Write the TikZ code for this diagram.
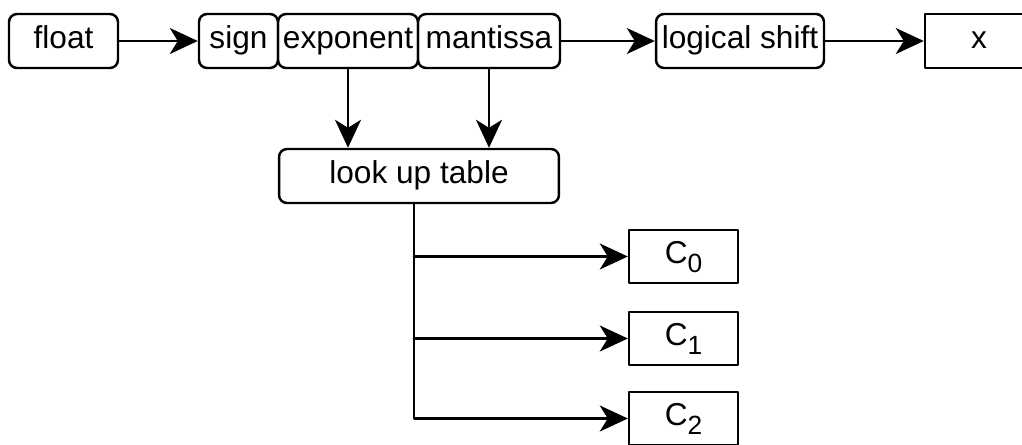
\documentclass[tikz,border=0pt]{standalone}
\usepackage{fontspec}
\setmainfont{Liberation Sans}
\usetikzlibrary{arrows.meta}
\newcommand{\sub}[1]{\raisebox{-5pt}{\fontsize{15}{15}\selectfont #1}}
\tikzset{
  field/.style={draw, rounded corners=0.16cm, inner sep=0pt,
    minimum height=1.08cm, text height=12pt, text depth=4pt,
    font=\fontsize{18}{21}\selectfont},
  plain/.style={draw, inner sep=0pt, minimum height=1.07cm,
    text height=12pt, text depth=4pt, font=\fontsize{18}{21}\selectfont},
  flow/.style={-{Stealth[length=0.56cm, width=0.52cm, inset=0.16cm]}},
}
\begin{document}
\begin{tikzpicture}[x=0.02cm, y=-0.02cm, line width=1.4pt, line cap=round, line join=round]
  % page: 1022 x 444 in picture units
  \useasboundingbox (0,0) rectangle (1022,444);
  \clip (0,0) rectangle (1022,444);
  % top row: the float split in its three fields, then the shift
  \node[field, minimum width=2.18cm] (float)    at (63.5, 41)  {float};
  \node[field, minimum width=1.58cm] (sign)     at (238.5, 41) {sign};
  \node[field, minimum width=2.80cm] (exponent) at (348, 41)   {exponent};
  \node[field, minimum width=2.84cm] (mantissa) at (489, 41)   {mantissa};
  \node[field, minimum width=3.36cm] (shift)    at (740, 41)   {logical shift};
  \node[plain, minimum width=2.16cm] (x)        at (979, 41)   {x};
  % table and its three outputs
  \node[field, minimum width=5.60cm] (lut)      at (419, 176)  {look up table};
  \node[plain, minimum width=2.18cm] (c0)       at (683.5, 256.5) {C\sub{0}};
  \node[plain, minimum width=2.18cm] (c1)       at (683.5, 338.5) {C\sub{1}};
  \node[plain, minimum width=2.18cm] (c2)       at (683.5, 418.5) {C\sub{2}};
  \draw[flow] (float) -- (sign);
  \draw[flow] (mantissa) -- (shift);
  \draw[flow] (shift) -- (x);
  \draw[flow] (exponent.south) -- (exponent.south |- lut.north);
  \draw[flow] (mantissa.south) -- (mantissa.south |- lut.north);
  % stem leaves the table a little left of its centre
  \coordinate (stem) at ([xshift=-0.1cm]lut.south);
  \draw[flow] (stem) -- (stem |- c2.west) -- (c2.west);
  \draw[flow] (stem |- c0.west) -- (c0.west);
  \draw[flow] (stem |- c1.west) -- (c1.west);
\end{tikzpicture}
\end{document}
